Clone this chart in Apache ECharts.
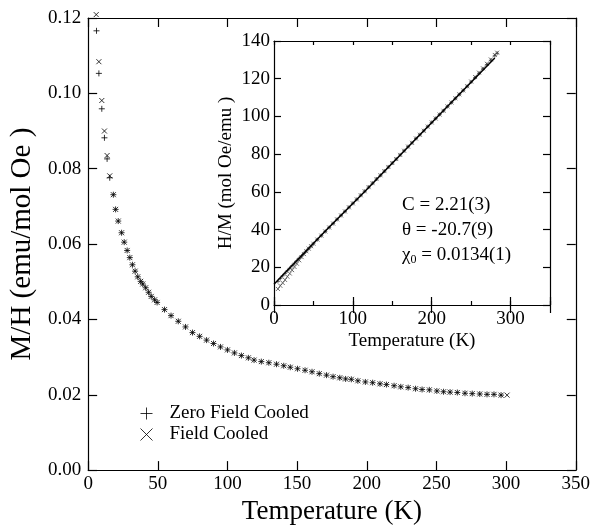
<!DOCTYPE html>
<html>
<head>
<meta charset="utf-8">
<script src="https://cdn.jsdelivr.net/npm/echarts@6/dist/echarts.min.js"></script>
<style>
  html, body { margin: 0; padding: 0; background: #fff; }
  #chart { width: 593px; height: 530px; }
</style>
</head>
<body>
<div id="chart"></div>
<script>
// main plot: M/H vs T, low-T part where ZFC and FC split
const zfcLowT = [6.0, 7.7, 9.8, 11.7, 13.6, 15.5];
const zfcLowMH = [0.1166, 0.1053, 0.0959, 0.0882, 0.0826, 0.0776];
const fcLowT = [5.8, 7.7, 9.8, 11.7, 13.6, 15.5];
const fcLowMH = [0.1209, 0.1084, 0.0981, 0.0900, 0.0835, 0.0781];

// rest of the curve, both runs lie on top of each other
const commonT = [18.1, 19.7, 21.6, 24.0, 25.9, 28.0, 29.9, 31.8, 33.7, 35.6,
  37.7, 39.2, 41.3, 43.4, 45.3, 47.7, 49.5, 54.8, 59.5, 64.7,
  69.9, 74.9, 80, 85, 90, 95, 100, 105, 110, 115,
  119.1, 124.3, 129.7, 135.2, 140.4, 145.1, 150.3, 155.7, 160.7, 165.9,
  171.1, 175.8, 180.6, 184.8, 188.9, 193.6, 199.0, 204.2, 209.5, 214.1,
  219.6, 224.4, 229.7, 235.0, 239.7, 244.9, 250.3, 255.1, 259.8, 265.0,
  270.5, 275.7, 281.1, 286.3, 291.3, 296.4];
const commonMH = [0.0731, 0.0692, 0.0661, 0.0630, 0.0605, 0.0583, 0.0564, 0.0545, 0.0528, 0.0513,
  0.0501, 0.0494, 0.0484, 0.0472, 0.0461, 0.0452, 0.0445, 0.0426, 0.0410, 0.0395,
  0.0380, 0.0365, 0.0355, 0.0345, 0.0336, 0.0327, 0.0319, 0.0311, 0.0304, 0.0298,
  0.0292, 0.0288, 0.0285, 0.0281, 0.0277, 0.0273, 0.0269, 0.0265, 0.0261, 0.0256,
  0.0252, 0.0248, 0.0245, 0.0242, 0.0241, 0.0237, 0.0234, 0.0232, 0.0229, 0.0227,
  0.0224, 0.0221, 0.0219, 0.0216, 0.0214, 0.0213, 0.0210, 0.0208, 0.0207, 0.0206,
  0.0204, 0.0203, 0.0202, 0.0201, 0.0201, 0.0199];
const fcEndT = [300.7];
const fcEndMH = [0.0199];

// inset: H/M vs T
const insetT = [5, 8, 11, 14, 17, 20, 23, 26, 29, 32, 35, 38, 41, 44, 47, 50,
  55, 60, 65, 70, 75, 80, 85, 90, 95, 100, 105, 110, 115, 120, 125, 130, 135,
  140, 145, 150, 155, 160, 165, 170, 175, 180, 185, 190, 195, 200, 205, 210,
  215, 220, 225, 230, 235, 240, 245, 250, 255, 260, 265, 270, 275, 280, 283];
const insetZFC = [12.5, 14.0, 15.5, 16.8, 18.2, 19.5, 20.9, 22.2, 23.5, 24.8, 26.0, 27.3, 28.6, 29.9, 31.2, 32.5,
  34.7, 36.8, 39.0, 41.1, 43.2, 45.4, 47.5, 49.6, 51.8, 53.9, 56.0, 58.2, 60.3, 62.5, 64.6, 66.8, 68.8,
  71.0, 73.2, 75.3, 77.4, 79.6, 81.8, 84.0, 86.0, 88.3, 90.3, 92.4, 94.6, 96.8, 98.9, 101.0,
  103.0, 105.3, 107.4, 109.6, 111.7, 113.8, 116.0, 118.3, 120.6, 122.9, 125.2, 127.5, 129.8, 132.2, 133.5];
const insetFC = [8.5, 10.2, 11.7, 13.3, 15.0, 16.7, 18.5, 20.2, 21.9, 23.7, 25.4, 27.0, 28.5, 29.9, 31.2, 32.5,
  34.7, 36.8, 39.0, 41.1, 43.2, 45.4, 47.5, 49.6, 51.8, 53.9, 56.0, 58.2, 60.3, 62.5, 64.6, 66.8, 68.8,
  71.0, 73.2, 75.3, 77.4, 79.6, 81.8, 84.0, 86.0, 88.3, 90.3, 92.4, 94.6, 96.8, 98.9, 101.0,
  103.0, 105.3, 107.4, 109.6, 111.7, 113.8, 116.0, 118.5, 120.9, 123.2, 125.5, 127.9, 130.2, 132.6, 133.8];

// fitted line in the inset
const fitT = [0, 67, 117, 210, 280];
const fitHM = [11, 40, 61, 101, 131];

const serif = "'Liberation Serif', 'DejaVu Serif', serif";
const plusPath = "path://M0,5L10,5M5,0L5,10";
const crossPath = "path://M0,0L10,10M10,0L0,10";

const pairs = (xs, ys) => xs.map((x, i) => [x, ys[i]]);

// plain black axis, ticks pointing in
function axis(extra) {
  return Object.assign({
    type: "value",
    axisLine: { show: true, onZero: false, lineStyle: { color: "#000", width: 1.2 } },
    axisTick: { show: true, inside: true, length: 9, lineStyle: { color: "#000", width: 1.2 } },
    axisLabel: { show: false, color: "#000", fontFamily: serif, fontSize: 19 },
    splitLine: { show: false },
  }, extra);
}

const markStyle = { color: "none", borderColor: "#000", borderWidth: 1 };
const insetMarkStyle = { color: "none", borderColor: "#333", borderWidth: 0.9 };

const chart = echarts.init(document.getElementById("chart"));
chart.setOption({
  animation: false,
  backgroundColor: "#fff",
  grid: [
    { left: 85.5, right: 14.2, top: 18, bottom: 42 },
    { left: 274, right: 43, top: 41, bottom: 225 },
  ],
  legend: {
    left: 133,
    top: 398,
    orient: "vertical",
    itemWidth: 12,
    itemHeight: 12,
    itemGap: 0,
    selectedMode: false,
    itemStyle: { borderWidth: 1 },
    textStyle: { color: "#000", fontFamily: serif, fontSize: 19, lineHeight: 21, padding: [0, 0, 0, 12] },
    data: [
      { name: "Zero Field Cooled", icon: plusPath },
      { name: "Field Cooled", icon: crossPath },
    ],
  },
  xAxis: [
    axis({
      gridIndex: 0, position: "bottom", min: 0, max: 350, interval: 50,
      axisLabel: { show: true, color: "#000", fontFamily: serif, fontSize: 19, margin: 4 },
      name: "Temperature (K)", nameLocation: "middle", nameGap: 25,
      nameTextStyle: { color: "#000", fontFamily: serif, fontSize: 27 },
    }),
    axis({ gridIndex: 0, position: "top", min: 0, max: 350, interval: 50 }),
    // inset: minor ticks every 50, labels every 100
    axis({
      gridIndex: 1, position: "bottom", min: 0, max: 350, interval: 50,
      axisTick: { show: true, inside: true, length: 4, lineStyle: { color: "#000", width: 1.2 } },
      axisLabel: {
        show: true, color: "#000", fontFamily: serif, fontSize: 19, margin: 5,
        formatter: (v) => (v % 100 === 0 && v <= 300 ? String(v) : ""),
      },
      name: "Temperature (K)", nameLocation: "middle", nameGap: 27,
      nameTextStyle: { color: "#000", fontFamily: serif, fontSize: 19 },
    }),
    axis({
      gridIndex: 1, position: "bottom", min: 0, max: 350, interval: 100,
      axisLine: { show: false },
      axisTick: { show: true, inside: true, length: 8, lineStyle: { color: "#000", width: 1.2 } },
    }),
    axis({
      gridIndex: 1, position: "top", min: 0, max: 350, interval: 50,
      axisTick: { show: true, inside: true, length: 4, lineStyle: { color: "#000", width: 1.2 } },
    }),
    axis({
      gridIndex: 1, position: "top", min: 0, max: 350, interval: 100,
      axisLine: { show: false },
      axisTick: { show: true, inside: true, length: 8, lineStyle: { color: "#000", width: 1.2 } },
    }),
  ],
  yAxis: [
    axis({
      gridIndex: 0, position: "left", min: 0, max: 0.12, interval: 0.02,
      axisLabel: { show: true, color: "#000", fontFamily: serif, fontSize: 19, margin: 7, formatter: (v) => v.toFixed(2) },
      name: "M/H (emu/mol Oe )", nameLocation: "middle", nameGap: 43,
      nameTextStyle: { color: "#000", fontFamily: serif, fontSize: 29 },
    }),
    axis({ gridIndex: 0, position: "right", min: 0, max: 0.12, interval: 0.02 }),
    axis({
      gridIndex: 1, position: "left", min: 0, max: 140, interval: 20,
      axisTick: { show: true, inside: true, length: 7, lineStyle: { color: "#000", width: 1.2 } },
      axisLabel: { show: true, color: "#000", fontFamily: serif, fontSize: 19, margin: 4 },
      name: "H/M (mol Oe/emu )", nameLocation: "middle", nameGap: 38,
      nameTextStyle: { color: "#000", fontFamily: serif, fontSize: 19 },
    }),
    axis({
      gridIndex: 1, position: "right", min: 0, max: 140, interval: 20,
      axisTick: { show: true, inside: true, length: 7, lineStyle: { color: "#000", width: 1.2 } },
    }),
  ],
  series: [
    {
      name: "Zero Field Cooled", type: "scatter", xAxisIndex: 0, yAxisIndex: 0, clip: false,
      symbol: plusPath, symbolSize: 6, itemStyle: markStyle,
      data: pairs(zfcLowT.concat(commonT), zfcLowMH.concat(commonMH)),
    },
    {
      name: "Field Cooled", type: "scatter", xAxisIndex: 0, yAxisIndex: 0, clip: false,
      symbol: crossPath, symbolSize: 5, itemStyle: markStyle,
      data: pairs(fcLowT.concat(commonT, fcEndT), fcLowMH.concat(commonMH, fcEndMH)),
    },
    {
      name: "Zero Field Cooled", type: "scatter", xAxisIndex: 2, yAxisIndex: 2,
      symbol: plusPath, symbolSize: 4, itemStyle: insetMarkStyle,
      data: pairs(insetT, insetZFC),
    },
    {
      name: "Field Cooled", type: "scatter", xAxisIndex: 2, yAxisIndex: 2,
      symbol: crossPath, symbolSize: 4, itemStyle: insetMarkStyle,
      data: pairs(insetT, insetFC),
    },
    {
      name: "fit", type: "line", xAxisIndex: 2, yAxisIndex: 2,
      showSymbol: false, silent: true, z: 3,
      lineStyle: { color: "#000", width: 1.5 },
      data: pairs(fitT, fitHM),
    },
  ],
  graphic: [
    { type: "text", left: 402, top: 196, style: { text: "C = 2.21(3)", fill: "#000", font: "19px " + serif } },
    { type: "text", left: 402, top: 221, style: { text: "θ = -20.7(9)", fill: "#000", font: "19px " + serif } },
    {
      type: "text", left: 402, top: 246,
      style: {
        text: "{a|χ}{s|0}{a| = 0.0134(1)}",
        rich: {
          a: { fill: "#000", fontFamily: serif, fontSize: 19 },
          s: { fill: "#000", fontFamily: serif, fontSize: 12, padding: [8, 0, 0, 0] },
        },
      },
    },
  ],
});
</script>
</body>
</html>
